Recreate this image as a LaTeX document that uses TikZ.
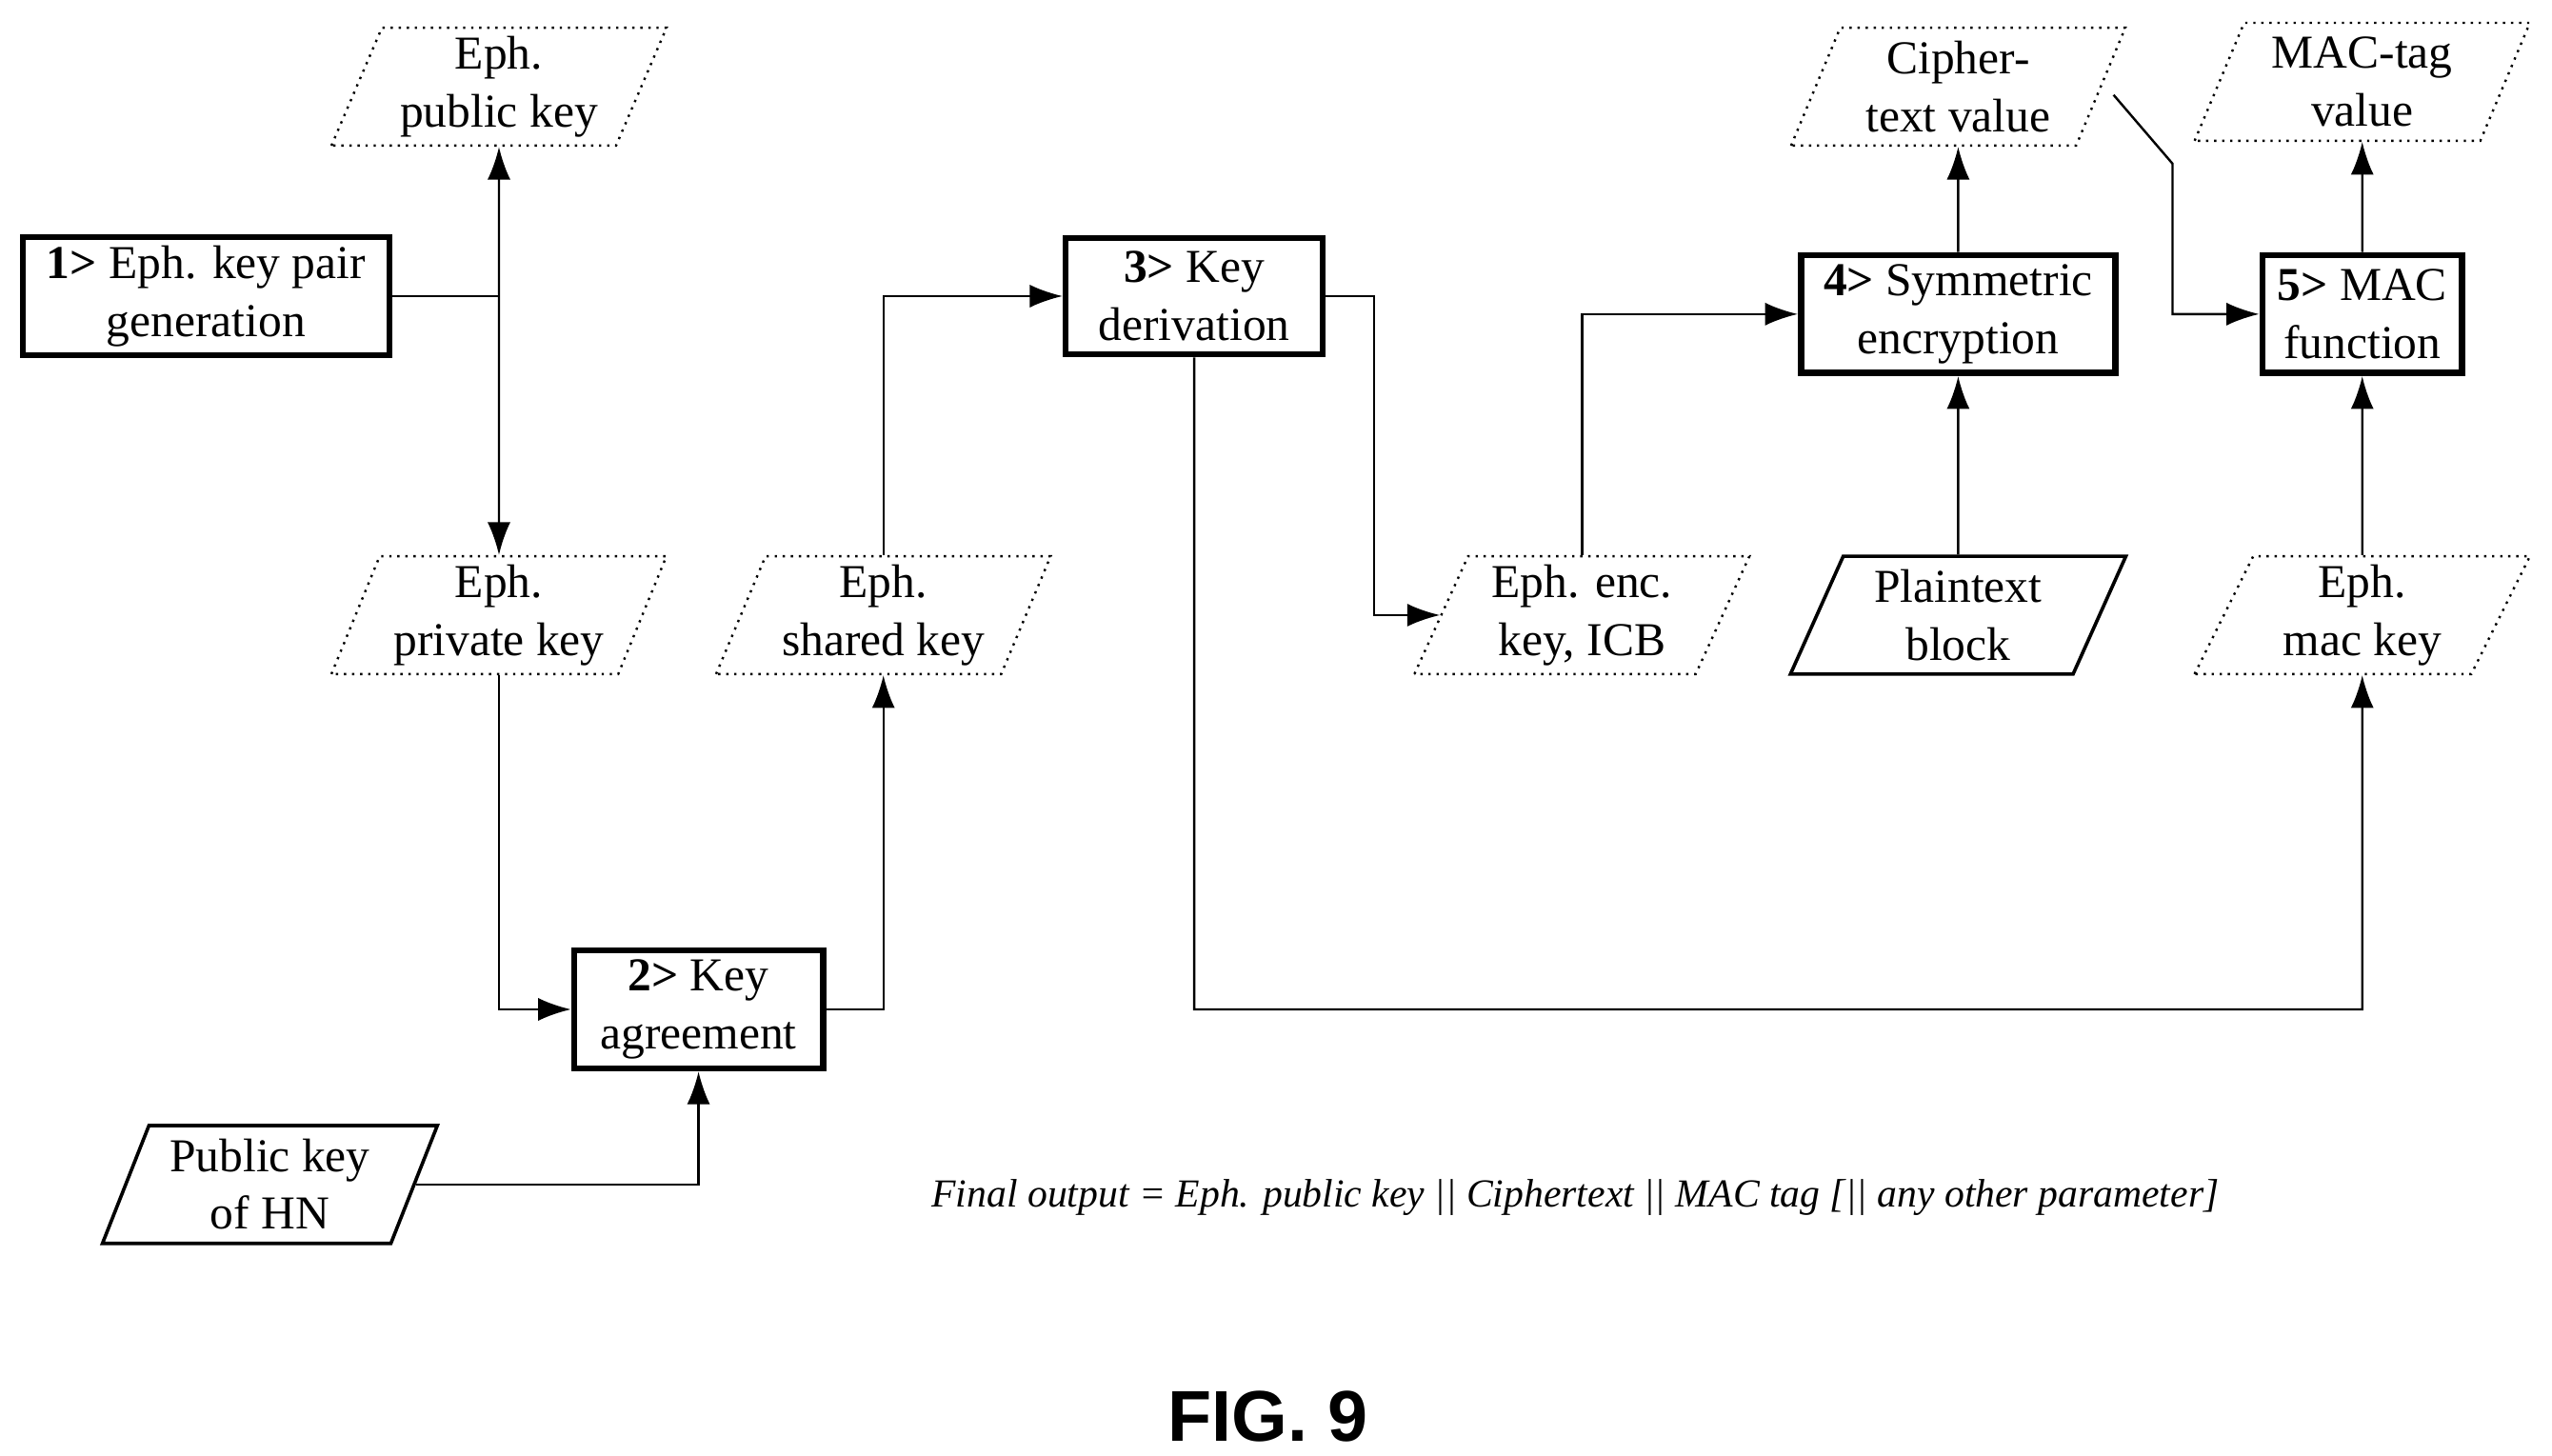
\documentclass[tikz,border=0pt]{standalone}
\usepackage{fontspec}
\setmainfont{Liberation Serif}
\newfontfamily\figfont{Liberation Sans}
\usetikzlibrary{shapes.geometric,arrows.meta}
\tikzset{
  proc/.style={draw,line width=1.1pt,align=center,inner sep=1pt},
  data/.style={trapezium,trapezium left angle=67,trapezium right angle=113,
    trapezium stretches=true,draw,densely dotted,align=center,
    minimum width=2.05cm,minimum height=0.72cm,inner sep=0pt},
  input/.style={data,solid,line width=0.6pt},
  flow/.style={-{Latex[length=2mm,width=1.4mm]}},
  twoway/.style={{Latex[length=2mm,width=1.4mm]}-{Latex[length=2mm,width=1.4mm]}}
}
\begin{document}
\begin{tikzpicture}[x=0.01cm,y=-0.01cm,font=\fontsize{8.2}{10}\selectfont]
  \useasboundingbox (0,0) rectangle (1560,890);

  % process steps
  \node[proc,minimum width=2.24cm,minimum height=0.72cm] (gen) at (126,181) {\textbf{1>} Eph. key pair\\generation};
  \node[proc,minimum width=1.52cm,minimum height=0.72cm] (agree) at (427,617) {\textbf{2>} Key\\agreement};
  \node[proc,minimum width=1.57cm,minimum height=0.71cm] (deriv) at (730,181) {\textbf{3>} Key\\derivation};
  \node[proc,minimum width=1.92cm,minimum height=0.72cm] (symenc) at (1197,192) {\textbf{4>} Symmetric\\encryption};
  \node[proc,minimum width=1.22cm,minimum height=0.72cm] (mac) at (1444,192) {\textbf{5>} MAC\\function};

  % data items
  \node[data] (ephpub) at (305,53) {Eph.\\public key};
  \node[data] (ephpriv) at (305,376) {Eph.\\private key};
  \node[data] (ephshared) at (540,376) {Eph.\\shared key};
  \node[input] (pubhn) at (165,724) {Public key\\of HN};
  \node[data] (ephenc) at (967,376) {Eph. enc.\\key, ICB};
  \node[input] (plain) at (1197,376) {Plaintext\\block};
  \node[data] (cipher) at (1197,53) {Cipher-\\text value};
  \node[data] (mactag) at (1444,50) {MAC-tag\\value};
  \node[data] (ephmac) at (1444,376) {Eph.\\mac key};

  \coordinate (split) at (305,181);
  \coordinate (bend) at (1328,100);

  % connectors
  \draw (gen.east) -- (split);
  \draw[twoway] (ephpub.south) -- (ephpriv.north);
  \draw[flow] (ephpriv.south) |- (agree.west);
  \draw[flow] (pubhn.east) -| (agree.south);
  \draw[flow] (agree.east) -| (ephshared.south);
  \draw[flow] (ephshared.north) |- (deriv.west);
  \draw[flow] (deriv.east) -- (840,181) |- (ephenc.west);
  \draw[flow] (deriv.south) |- (1444,617) -- (ephmac.south);
  \draw[flow] (ephenc.north) |- (symenc.west);
  \draw[flow] (plain.north) -- (symenc.south);
  \draw[flow] (symenc.north) -- (cipher.south);
  \draw[flow] (1292,58) -- (bend) |- (mac.west);
  \draw[flow] (ephmac.north) -- (mac.south);
  \draw[flow] (mac.north) -- (mactag.south);

  \node (final) at (963,732) {\fontsize{6.9}{8.5}\selectfont\itshape Final output = Eph. public key || Ciphertext || MAC tag [|| any other parameter]};
  \node (fig) at (775,866) {\figfont\bfseries\fontsize{12.5}{14}\selectfont FIG. 9};
\end{tikzpicture}
\end{document}
